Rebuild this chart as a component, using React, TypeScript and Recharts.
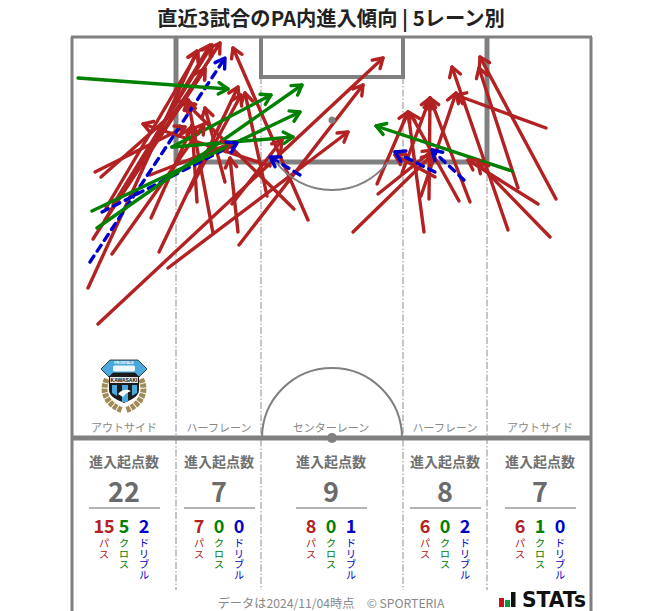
import React from "react";
import { ComposedChart, Line, XAxis, YAxis, ReferenceLine, ReferenceDot } from "recharts";

type Arrow = [number, number, number, number];

// Arrows in pitch units: [fromX, fromY, toX, toY], origin at the top-left pitch corner.
const passArrows: Arrow[] = [
  [23,135,113,90],[29,140,116,63],[21,202,148,6],[40,217,132,87],[16,251,125,14],
  [26,287,311,21],[79,181,120,90],[87,215,166,50],[96,231,276,95],[34,171,126,15],
  [38,175,133,32],[41,168,140,8],[46,163,133,32],[33,183,138,8],[78,138,160,106],
  [141,196,116,63],[166,195,158,121],[153,145,133,71],[125,165,120,88],[117,154,169,58],
  [167,208,291,48],[160,167,210,103],
  [195,159,173,56],[222,172,113,65],[236,183,161,11],[281,195,360,118],[306,157,361,113],
  [305,147,336,75],[330,136,358,61],[198,129,71,87],
  [352,195,336,75],[357,162,358,61],[349,159,384,56],[387,164,338,76],[398,165,358,61],[363,140,323,118],
  [436,193,380,30],[478,200,406,126],[466,167,396,123],[446,151,407,31],[484,162,408,20],[474,91,384,58],
];
const crossArrows: Arrow[] = [
  [6,41,156,52],[20,174,228,75],[25,191,230,48],[100,110,199,58],[100,110,221,100],[440,134,304,89],
];
const dribbleArrows: Arrow[] = [
  [18,225,153,21],[30,175,165,106],[228,138,198,120],[363,135,323,115],[392,143,360,113],
];

const laneNames = ["アウトサイド", "ハーフレーン", "センターレーン", "ハーフレーン", "アウトサイド"];
const laneCentres = [52, 147, 259, 373, 468];
const laneTotals = [22, 7, 9, 8, 7];
const lanePasses = [15, 7, 8, 6, 6];
const laneCrosses = [5, 0, 0, 0, 1];
const laneDribbles = [2, 0, 1, 2, 0];
const laneDividers = [104, 189, 331, 415];

const RED = "#b22222";
const GREEN = "#008000";
const BLUE = "#0000cd";
const PITCH = "#808080";
const FONT = "'Noto Sans CJK JP', 'Noto Sans', sans-serif";

const arrowLine = (a: Arrow, key: string, color: string, dash?: string) => {
  const [x0, y0, x1, y1] = a;
  const angle = Math.atan2(y1 - y0, x1 - x0);
  const barb = 11;
  const spread = 0.55;
  const head = (p: any) => {
    if (p.index !== 1) return <g key={key + "-s"} />;
    const { cx, cy } = p;
    const ax = cx - barb * Math.cos(angle - spread);
    const ay = cy - barb * Math.sin(angle - spread);
    const bx = cx - barb * Math.cos(angle + spread);
    const by = cy - barb * Math.sin(angle + spread);
    return (
      <path
        key={key + "-h"}
        d={`M${ax} ${ay}L${cx} ${cy}L${bx} ${by}`}
        fill="none"
        stroke={color}
        strokeWidth={3.4}
        strokeLinecap="round"
        strokeLinejoin="round"
      />
    );
  };
  return (
    <Line
      key={key}
      data={[{ x: x0, y: y0 }, { x: x1, y: y1 }]}
      dataKey="y"
      type="linear"
      stroke={color}
      strokeWidth={3.4}
      strokeLinecap="round"
      strokeDasharray={dash}
      dot={head}
      activeDot={false}
      legendType="none"
      isAnimationActive={false}
    />
  );
};

const seg = (key: string, x0: number, y0: number, x1: number, y1: number, w: number, dash?: string, color = PITCH) => (
  <ReferenceLine
    key={key}
    segment={[{ x: x0, y: y0 }, { x: x1, y: y1 }]}
    stroke={color}
    strokeWidth={w}
    strokeDasharray={dash}
    ifOverflow="visible"
  />
);

const at = (key: string, x: number, y: number, draw: (cx: number, cy: number) => React.ReactElement) => (
  <ReferenceDot
    key={key}
    x={x}
    y={y}
    r={1}
    ifOverflow="visible"
    shape={(p: any) => draw(p.cx, p.cy)}
  />
);

const label = (
  key: string, x: number, y: number, text: string | number, size: number, color: string, weight = 400,
) =>
  at(key, x, y, (cx, cy) => (
    <text x={cx} y={cy} textAnchor="middle" fontFamily={FONT} fontSize={size} fontWeight={weight} fill={color}>
      {text}
    </text>
  ));

const vertical = (key: string, x: number, y: number, text: string, color: string) =>
  at(key, x, y, (cx, cy) => (
    <text
      x={cx}
      y={cy}
      fontFamily={FONT}
      fontSize={10.5}
      fill={color}
      style={{ writingMode: "vertical-rl" }}
    >
      {text}
    </text>
  ));

const crest = (cx: number, cy: number) => (
  <g transform={`translate(${cx} ${cy})`}>
    <path d="M-17 -6C-24 8 -15 21 -2 25" fill="none" stroke="#a08a55" strokeWidth={6} strokeDasharray="4 1" />
    <path d="M17 -6C24 8 15 21 2 25" fill="none" stroke="#a08a55" strokeWidth={6} strokeDasharray="4 1" />
    <path d="M-15 -16L15 -16L15 5C15 12 6 15 0 18C-6 15 -15 12 -15 5Z" fill="#1c1c1c" />
    <path d="M-12 0H-7V11L-12 8Z" fill="#4aa8dc" />
    <path d="M-2 0H4V17L-2 17Z" fill="#4aa8dc" />
    <path d="M8 0H13V8L8 11Z" fill="#4aa8dc" />
    <rect x={-14} y={-8} width={28} height={6} fill="#e8e8e8" />
    <text x={0} y={-3.3} textAnchor="middle" fontSize={5} fontWeight={700} fontFamily="'Liberation Sans'" fill="#111">KAWASAKI</text>
    <path d="M-23 -16L-14 -25L14 -25L23 -16L15 -8L11 -12L-11 -12L-15 -8Z" fill="#4aa8dc" stroke="#1c1c1c" strokeWidth={0.8} />
    <text x={0} y={-20.8} textAnchor="middle" fontSize={3.6} fontWeight={700} fontFamily="'Liberation Sans'" fill="#fff">FRONTALE</text>
    <rect x={-11} y={-19.5} width={22} height={6} rx={1.5} fill="#ffffff" opacity={0.9} />
    <path d="M-6 9C-2 4 3 4 7 6C4 7 1 9 -1 12Z" fill="#ffffff" />
  </g>
);

const statsLogo = (cx: number, cy: number) => (
  <g transform={`translate(${cx} ${cy})`}>
    <rect x={0} y={6} width={5} height={9} fill="#c8141e" />
    <rect x={6} y={8} width={5} height={7} fill="#0a9a46" />
    <rect x={12} y={0} width={4.5} height={15} fill="#111" />
    <text
      x={23}
      y={15}
      fontFamily="'DejaVu Sans'"
      fontSize={21}
      fontWeight={700}
      fill="#111"
      textLength={64}
      lengthAdjust="spacingAndGlyphs"
    >
      STATs
    </text>
  </g>
);

export default function App() {
  return (
    <div style={{ position: "absolute", left: 0, top: 0, width: 663, height: 611, background: "#fff", overflow: "hidden" }}>
      <ComposedChart width={663} height={611} margin={{ top: 0, right: 0, bottom: 0, left: 0 }}>
        <XAxis type="number" dataKey="x" domain={[-72, 591]} allowDataOverflow hide />
        <YAxis type="number" dataKey="y" domain={[-37, 574]} allowDataOverflow reversed hide />

        {laneDividers.map((x, i) =>
          seg(`lane${i}`, x, x === 104 || x === 415 ? 125 : 40, x, 553, 1, "7 2 1.5 2", "#8c8c8c"),
        )}

        {seg("top", -1, 0, 520, 0, 3)}
        {seg("left", 0, 0, 0, 574, 3)}
        {seg("right", 519, 0, 519, 574, 3)}
        {seg("half", 0, 401, 520, 401, 5)}
        {seg("boxL", 104, 0, 104, 125, 5)}
        {seg("boxR", 415, 0, 415, 125, 5)}
        {seg("boxB", 102, 125, 417, 125, 5)}
        {seg("goalL", 189, 0, 189, 40, 4)}
        {seg("goalR", 331, 0, 331, 40, 4)}
        {seg("goalB", 187, 40, 333, 40, 4)}

        {at("penArc", 260, 83, (cx, cy) => (
          <path d={`M${cx - 56} ${cy + 42}A70 70 0 0 0 ${cx + 56} ${cy + 42}`} fill="none" stroke={PITCH} strokeWidth={2} />
        ))}
        {at("penSpot", 260, 83, (cx, cy) => <circle cx={cx} cy={cy} r={3.5} fill={PITCH} />)}
        {at("centreArc", 260, 401, (cx, cy) => (
          <path d={`M${cx - 70} ${cy}A70 70 0 0 1 ${cx + 70} ${cy}`} fill="none" stroke={PITCH} strokeWidth={2} />
        ))}
        {at("centreSpot", 260, 401, (cx, cy) => <circle cx={cx} cy={cy} r={5} fill={PITCH} />)}

        {passArrows.map((a, i) => arrowLine(a, `p${i}`, RED))}
        {dribbleArrows.map((a, i) => arrowLine(a, `d${i}`, BLUE, "7 6"))}
        {crossArrows.map((a, i) => arrowLine(a, `c${i}`, GREEN))}

        {label("title", 259, -11, "直近3試合のPA内進入傾向 | 5レーン別", 20.3, "#222", 700)}
        {at("crest", 52, 348, crest)}

        {laneCentres.map((c, i) => (
          <React.Fragment key={`lane-text-${i}`}>
            {label(`name${i}`, c, 395, laneNames[i], 11, "#888")}
            {label(`head${i}`, c, 430, "進入起点数", 14, "#707070", 700)}
            {label(`total${i}`, c, 465, laneTotals[i], 27, "#6b6b6b", 700)}
            {seg(`rule${i}`, c - 35, 471, c + 36, 471, 1, undefined, "#666")}
            {label(`pass${i}`, c - 20, 496, lanePasses[i], 18, RED, 700)}
            {label(`cross${i}`, c, 496, laneCrosses[i], 18, GREEN, 700)}
            {label(`drib${i}`, c + 20, 496, laneDribbles[i], 18, BLUE, 700)}
            {vertical(`vp${i}`, c - 20, 501, "パス", RED)}
            {vertical(`vc${i}`, c, 501, "クロス", GREEN)}
            {vertical(`vd${i}`, c + 20, 501, "ドリブル", BLUE)}
          </React.Fragment>
        ))}

        {label("foot", 259, 571, "データは2024/11/04時点\u3000© SPORTERIA", 12.2, "#888")}
        {at("stats", 427, 555, statsLogo)}
      </ComposedChart>
    </div>
  );
}
